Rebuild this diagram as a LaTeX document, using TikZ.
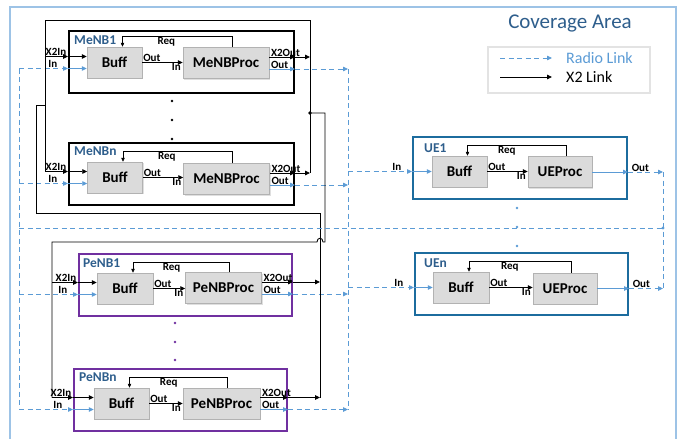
\documentclass[tikz,border=0pt]{standalone}
\usepackage{fontspec}
\setmainfont{Carlito}
\usetikzlibrary{arrows.meta,shadows}

\definecolor{covblue}{RGB}{157,195,230}
\definecolor{titleblue}{RGB}{46,94,140}
\definecolor{radioblue}{RGB}{91,155,213}
\definecolor{penbpurple}{RGB}{112,48,160}
\definecolor{uecolor}{RGB}{28,108,158}

\tikzset{
  arr/.style={-{Triangle[length=5pt,width=4.5pt]}},
  x2line/.style={line width=0.9pt},
  x2/.style={x2line,arr},
  radioline/.style={radioblue,line width=0.8pt,arr},
  radiopath/.style={radioblue,line width=0.8pt,dash pattern=on 5pt off 3.5pt},
  radio/.style={radiopath,arr},
  enbbox/.style={draw,line width=2pt,minimum width=213pt,minimum height=62pt,inner sep=0pt},
  unitbox/.style={draw=gray!60,fill=gray!28,line width=0.5pt,minimum height=31pt,inner sep=0pt,
    font=\bfseries\fontsize{15}{15}\selectfont,
    drop shadow={opacity=0.25,shadow xshift=1.2pt,shadow yshift=-1.2pt}},
  portlbl/.style={font=\bfseries\fontsize{11}{11}\selectfont,inner sep=0.6pt},
  tagtxt/.style={font=\bfseries\fontsize{13.5}{14}\selectfont,text=titleblue,anchor=west,inner sep=0pt},
  reqline/.style={line width=0.6pt,-{Triangle[length=4pt,width=3.5pt]}},
}

\begin{document}
\begin{tikzpicture}[x=1pt,y=-1pt]
\useasboundingbox (0,0) rectangle (683,439);
% coverage area
\draw[covblue,line width=1.8pt] (10,445) -- (10,7) -- (676,7) -- (676,445);
\node[font=\fontsize{21}{21}\selectfont,text=titleblue] (title) at (570,23) {Coverage Area};

% legend
\node[draw=gray!22,line width=1.5pt,minimum width=162pt,minimum height=46pt] (legend) at (569,70) {};
\node[anchor=west,font=\fontsize{16}{16}\selectfont,text=radioblue,inner sep=0pt] (radiotxt) at (566,58) {Radio Link};
\node[anchor=west,font=\fontsize{16}{16}\selectfont,inner sep=0pt] (x2txt) at (566,77) {X2 Link};
\coordinate (lgr) at (500,58);
\coordinate (lgx) at (500,77);
\draw[radio] (lgr) -- (lgr -| 552,0);
\draw[x2] (lgx) -- (lgx -| 552,0);

% MeNB1
\node[enbbox,minimum width=225pt] (menb1) at (181.5,62) {};
\node[unitbox,minimum width=55pt] (b-menb1) at (114.5,62.5) {Buff};
\node[unitbox,minimum width=86pt] (p-menb1) at (226,63) {MeNBProc};
\node[tagtxt] (t-menb1) at (74,40) {MeNB1};
% MeNBn
\node[enbbox,minimum width=225pt] (menbn) at (181.5,174) {};
\node[unitbox,minimum width=55pt] (b-menbn) at (115,177.5) {Buff};
\node[unitbox,minimum width=86pt] (p-menbn) at (226.5,179) {MeNBProc};
\node[tagtxt] (t-menbn) at (74,151) {MeNBn};
% PeNB1
\node[enbbox,draw=penbpurple] (penb1) at (185.5,284.5) {};
\node[unitbox,minimum width=56pt] (b-penb1) at (125,288.5) {Buff};
\node[unitbox,minimum width=76pt] (p-penb1) at (223.5,288) {PeNBProc};
\node[tagtxt] (t-penb1) at (83,263) {PeNB1};
% PeNBn
\node[enbbox,draw=penbpurple] (penbn) at (180.5,400) {};
\node[unitbox,minimum width=55pt] (b-penbn) at (121.5,403.5) {Buff};
\node[unitbox,minimum width=77pt] (p-penbn) at (221.5,403.5) {PeNBProc};
\node[tagtxt] (t-penbn) at (79,377) {PeNBn};
% UE1
\node[enbbox,draw=uecolor,minimum width=214pt] (ue1) at (520,168) {};
\node[unitbox,minimum width=55pt] (b-ue1) at (459.5,171.5) {Buff};
\node[unitbox,minimum width=64pt] (p-ue1) at (560,172) {UEProc};
\node[tagtxt] (t-ue1) at (424,148) {UE1};
% UEn
\node[enbbox,draw=uecolor] (uen) at (521.5,284) {};
\node[unitbox,minimum width=56pt] (b-uen) at (461,287.5) {Buff};
\node[unitbox,minimum width=64pt] (p-uen) at (565,288.5) {UEProc};
\node[tagtxt] (t-uen) at (424,263) {UEn};

% dots between the blocks
\foreach \y in {101,120,139} \fill (172,\y) circle (1.4);
\foreach \y in {323,342,360} \fill[penbpurple] (175,\y) circle (1.4);
\foreach \y in {208,227,246} \fill[radioblue] (517,\y) circle (1.4);

% collectors
\coordinate (mfeed) at (45,20);
\coordinate (mcol) at (310,20);
\coordinate (mjoin) at (310,113);
\coordinate (mturn) at (325,113);
\coordinate (pfeed) at (52,242);
\coordinate (pcol) at (320,213);
\coordinate (pturn) at (36,105);
\coordinate (hop) at (320,242);
\coordinate (lcol) at (19,228);
\coordinate (ucol) at (663,228);
\coordinate (rcol) at (348,67);

% inside every block
\foreach \n in {menb1,menbn,penb1,penbn,ue1,uen}{
  \draw[reqline] ([xshift=6pt]p-\n.north) |- node[portlbl,pos=0.8,anchor=north] (r-\n) {Req}
    ([xshift=8pt,yshift=10pt]b-\n.north) -- ([xshift=8pt]b-\n.north);
  \draw[x2] (b-\n.east) node[portlbl,anchor=south west] (o-\n) {Out}
    -- (b-\n.east -| p-\n.west) node[portlbl,anchor=north east,xshift=-1pt] (i-\n) {In};
}

% eNB ports
\foreach \n/\f/\c in {menb1/mfeed/mcol,menbn/mfeed/mcol,penb1/pfeed/pcol,penbn/pfeed/pcol}{
  \coordinate (xi-\n) at ([yshift=6pt]b-\n.west);
  \coordinate (ri-\n) at ([yshift=-6pt]b-\n.west);
  \coordinate (xo-\n) at ([yshift=6pt]p-\n.east);
  \coordinate (ro-\n) at ([yshift=-6pt]p-\n.east);
  \draw[x2] (xi-\n -| \f) -- (xi-\n -| \n.west);
  \draw[x2] (xi-\n -| \n.west) -- (xi-\n);
  \draw[radio] (ri-\n -| lcol) -- (ri-\n -| \n.west);
  \draw[radioline] (ri-\n -| \n.west) -- (ri-\n);
  \draw[x2] (xo-\n) -- (xo-\n -| \n.east);
  \draw[x2] (xo-\n -| \n.east) -- (xo-\n -| \c);
  \draw[radioline] (ro-\n) -- (ro-\n -| \n.east);
  \draw[radio] (ro-\n -| \n.east) -- (ro-\n -| rcol);
  \node[portlbl,anchor=south east,xshift=-1pt] (xil-\n) at (xi-\n -| \n.west) {X2In};
  \node[portlbl,anchor=south east,xshift=-10pt] (ril-\n) at (ri-\n -| \n.west) {In};
  \node[portlbl,anchor=south west,xshift=1pt] (xol-\n) at (xo-\n) {X2Out};
  \node[portlbl,anchor=south west,xshift=1pt] (rol-\n) at (ro-\n) {Out};
}

% UE ports
\foreach \n in {ue1,uen}{
  \coordinate (ri-\n) at (b-\n.west);
  \coordinate (ro-\n) at (p-\n.east);
  \draw[radio] (ri-\n -| rcol) -- (ri-\n -| \n.west);
  \draw[radioline] (ri-\n -| \n.west) -- (ri-\n);
  \draw[radioline] (ro-\n) -- (ro-\n -| \n.east);
  \draw[radio] (ro-\n -| \n.east) -- (ro-\n -| ucol);
  \node[portlbl,anchor=south east,xshift=-10pt] (ril-\n) at (ri-\n -| \n.west) {In};
  \node[portlbl,anchor=south west,xshift=3pt] (rol-\n) at (ro-\n -| \n.east) {Out};
}

% X2 links
\draw[x2line] (xi-menbn -| mfeed) -- (mfeed) -- (mcol) -- (xo-menbn -| mcol);
\fill (mjoin) circle (1.8);
\draw[x2line] (mjoin) -- (mturn) -- (mturn |- pfeed) -- ([xshift=3pt]hop)
  .. controls +(0,-5) and +(0,-5) .. ([xshift=-3pt]hop) -- (pfeed) -- (xi-penbn -| pfeed);
\draw[x2line] (xo-penbn -| pcol) -- (pcol) -- (pcol -| pturn) -- (pturn) -- (pturn -| mfeed);

% radio links
\draw[radiopath] (ri-menb1 -| lcol) -- (ri-penbn -| lcol);
\draw[radiopath] (lcol) -- (ucol);
\draw[radiopath] (ro-ue1 -| ucol) -- (ro-uen -| ucol);
\fill[radioblue] (ucol) circle (1.6);
\draw[radiopath] (ro-menb1 -| rcol) -- (ro-penbn -| rcol);
\end{tikzpicture}
\end{document}
